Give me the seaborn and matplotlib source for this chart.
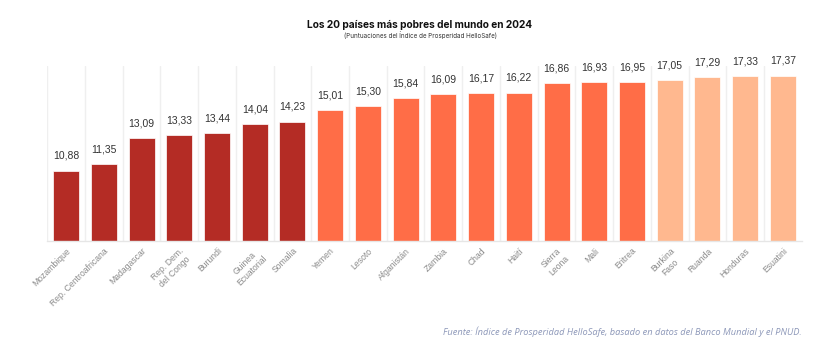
import numpy as np
import pandas as pd
import seaborn as sns
import matplotlib.pyplot as plt

# Data
paises = ["Mozambique", "Rep. Centroafricana", "Madagascar", "Rep. Dem.\ndel Congo", "Burundi",
          "Guinea\nEcuatorial", "Somalia", "Yemen", "Lesoto", "Afganistán", "Zambia", "Chad",
          "Haití", "Sierra\nLeona", "Mali", "Eritrea", "Burkina\nFaso", "Ruanda", "Honduras", "Esuatini"]
puntuaciones = [10.88, 11.35, 13.09, 13.33, 13.44, 14.04, 14.23, 15.01, 15.30, 15.84,
                16.09, 16.17, 16.22, 16.86, 16.93, 16.95, 17.05, 17.29, 17.33, 17.37]
grupos = ["bajo"] * 7 + ["medio"] * 9 + ["alto"] * 4

colores = {"bajo": "#B42C25", "medio": "#FF6D47", "alto": "#FFB88F"}

df = pd.DataFrame({"pais": paises, "valor": puntuaciones, "grupo": grupos})

sns.set_theme(style="white")
plt.rcParams['font.family'] = ['Liberation Sans', 'DejaVu Sans']

fig = plt.figure(figsize=(8.4, 3.51), dpi=100)
ax = fig.add_axes([0.0563, 0.3142, 0.8981, 0.4986])

sns.barplot(data=df, x="pais", y="valor", hue="grupo", palette=colores, saturation=1,
            dodge=False, legend=False, width=0.69, edgecolor="#ffffff", linewidth=0.5, ax=ax)

ax.set_ylim(6.1, 18.05)
ax.set_xlim(-0.5, len(paises) - 0.5)

# vertical separators between categories
for b in np.arange(-0.5, len(paises) - 1, 1):
    ax.axvline(b, color="#efefef", lw=1, zorder=0)

for s in ["top", "right", "left"]:
    ax.spines[s].set_visible(False)
ax.spines["bottom"].set_color("#e6e6e6")
ax.spines["bottom"].set_linewidth(1)

ax.set_yticks([])
ax.set_xlabel("")
ax.set_ylabel("")
ax.tick_params(axis="x", length=0, pad=4)
ax.set_xticks(range(len(paises)))
ax.set_xticklabels(paises, rotation=45, ha="right", rotation_mode="anchor",
                   fontsize=6.2, color="#8a8a8a", multialignment="center")

for i, v in enumerate(puntuaciones):
    ax.annotate(f"{v:.2f}".replace(".", ","), (i, v), xytext=(0, 7), textcoords="offset points",
                ha="center", va="bottom", fontsize=7.5, color="#333333")

fig.text(0.5, 0.93, "Los 20 países más pobres del mundo en 2024", ha="center", va="center",
         fontsize=7.3, fontweight="bold", color="#111111", family=["Inter", "DejaVu Sans"])
fig.text(0.5, 0.900, "(Puntuaciones del Índice de Prosperidad HelloSafe)", ha="center", va="center",
         fontsize=4.5, color="#333333", family=["Inter", "DejaVu Sans"])
fig.text(0.954, 0.055, "Fuente: Índice de Prosperidad HelloSafe, basado en datos del Banco Mundial y el PNUD.",
         ha="right", va="center", fontsize=6.7, style="italic", color="#8c97b8",
         family=["Open Sans", "DejaVu Sans"])

fig.savefig("out.png", dpi=100, facecolor="white")
